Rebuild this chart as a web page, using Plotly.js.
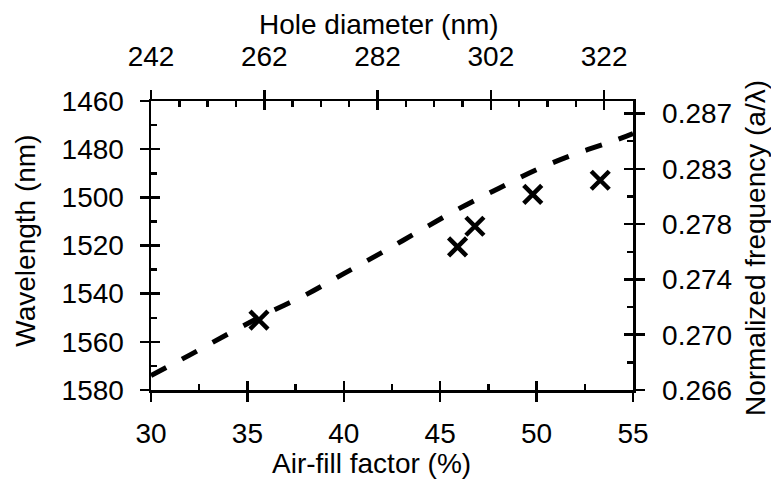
<!DOCTYPE html>
<html>
<head>
<meta charset="utf-8">
<script src="https://cdn.plot.ly/plotly-3.0.1.min.js"></script>
<style>html,body{margin:0;padding:0;background:#fff;}#chart{width:771px;height:483px;}</style>
</head>
<body>
<div id="chart"></div>
<script>
// Dashed simulation curve: air-fill factor (%) vs wavelength (nm)
var curveFill = [30, 32, 34, 36, 38, 40, 42, 44, 46, 48, 50, 52, 54, 55];
var curveWavelength = [1574, 1565.5, 1556.7, 1548.3, 1540.6, 1531.7, 1522.8, 1513.6, 1504.6, 1496.4, 1488.5, 1482.0, 1476.6, 1473.5];
// Measured points
var measFill = [35.6, 45.9, 46.8, 49.8, 53.3];
var measWavelength = [1551, 1520.6, 1512, 1498.8, 1492.9];
// Top axis (hole diameter) ticks
var holeTicks = [242, 262, 282, 302, 322];
// Right axis (normalized frequency) ticks
var freqTickVals = [0.266, 0.2702, 0.2744, 0.2786, 0.2828, 0.287];
var freqTickText = ['0.266', '0.270', '0.274', '0.278', '0.283', '0.287'];

var FONT = 'Liberation Sans, Arial, sans-serif';
var FS = 28;
var LW = 2.5;

var traces = [
  {x: curveFill, y: curveWavelength, mode: 'lines', xaxis: 'x', yaxis: 'y',
   line: {color: '#000', width: 5, dash: '17px,18px', shape: 'spline'}, showlegend: false, hoverinfo: 'skip'},
  {x: measFill, y: measWavelength, mode: 'markers', xaxis: 'x', yaxis: 'y',
   marker: {symbol: 'x-thin-open', size: 18, color: '#000', line: {color: '#000', width: 4.5}}, showlegend: false},
  {x: [], y: [], xaxis: 'x2', yaxis: 'y', showlegend: false},
  {x: [], y: [], xaxis: 'x3', yaxis: 'y', showlegend: false},
  {x: [], y: [], xaxis: 'x4', yaxis: 'y', showlegend: false},
  {x: [], y: [], xaxis: 'x', yaxis: 'y2', showlegend: false},
  {x: [], y: [], xaxis: 'x', yaxis: 'y3', showlegend: false},
  {x: [], y: [], xaxis: 'x', yaxis: 'y4', showlegend: false}
];

var tickFont = {family: FONT, size: FS, color: '#000'};
var topRange = [242, 327.1];
var freqRange = [0.266, 0.28795];

var layout = {
  width: 771, height: 483,
  margin: {l: 151, r: 138, t: 101, b: 93},
  paper_bgcolor: '#fff', plot_bgcolor: '#fff',
  font: {family: FONT, size: FS, color: '#000'},
  showlegend: false,
  xaxis: {range: [30, 55], tick0: 30, dtick: 5, ticks: 'outside', ticklen: 9, tickwidth: LW, tickcolor: '#000',
          showline: true, linewidth: LW, linecolor: '#000', showgrid: false, zeroline: false,
          tickfont: tickFont, anchor: 'y', side: 'bottom', ticklabelstandoff: 8},
  xaxis3: {range: [30, 55], overlaying: 'x', anchor: 'y', side: 'bottom', tick0: 30, dtick: 5,
           ticks: 'inside', ticklen: 9, tickwidth: LW, tickcolor: '#000', showticklabels: false,
           showline: false, showgrid: false, zeroline: false,
           minor: {ticks: 'inside', dtick: 2.5, tick0: 30, ticklen: 6, tickwidth: LW, tickcolor: '#000', showgrid: false}},
  xaxis2: {range: topRange, overlaying: 'x', anchor: 'y', side: 'top', tickmode: 'array', tickvals: holeTicks,
           ticks: 'outside', ticklen: 9, tickwidth: LW, tickcolor: '#000',
           showline: true, linewidth: LW, linecolor: '#000', showgrid: false, zeroline: false,
           tickfont: tickFont, ticklabelstandoff: 12},
  xaxis4: {range: topRange, overlaying: 'x', anchor: 'y', side: 'top', tickmode: 'array', tickvals: holeTicks,
           ticks: 'inside', ticklen: 9, tickwidth: LW, tickcolor: '#000', showticklabels: false,
           showline: false, showgrid: false, zeroline: false,
           minor: {ticks: 'inside', dtick: 5, tick0: 242, ticklen: 6, tickwidth: LW, tickcolor: '#000', showgrid: false}},
  yaxis: {range: [1580, 1460], tick0: 1460, dtick: 20, ticks: 'outside', ticklen: 9, tickwidth: LW, tickcolor: '#000',
          showline: true, linewidth: LW, linecolor: '#000', showgrid: false, zeroline: false,
          tickfont: tickFont, anchor: 'x', side: 'left', ticklabelstandoff: 10},
  yaxis3: {range: [1580, 1460], overlaying: 'y', anchor: 'x', side: 'left', tick0: 1460, dtick: 20,
           ticks: 'inside', ticklen: 9, tickwidth: LW, tickcolor: '#000', showticklabels: false,
           showline: false, showgrid: false, zeroline: false,
           minor: {ticks: 'inside', dtick: 10, tick0: 1460, ticklen: 6, tickwidth: LW, tickcolor: '#000', showgrid: false}},
  yaxis2: {range: freqRange, overlaying: 'y', anchor: 'x', side: 'right', tickmode: 'array',
           tickvals: freqTickVals, ticktext: freqTickText,
           ticks: 'outside', ticklen: 9, tickwidth: LW, tickcolor: '#000',
           showline: true, linewidth: LW, linecolor: '#000', showgrid: false, zeroline: false,
           tickfont: tickFont, ticklabelstandoff: 12},
  yaxis4: {range: freqRange, overlaying: 'y', anchor: 'x', side: 'right', tick0: 0.266, dtick: 0.0042,
           ticks: 'inside', ticklen: 9, tickwidth: LW, tickcolor: '#000', showticklabels: false,
           showline: false, showgrid: false, zeroline: false,
           minor: {ticks: 'inside', dtick: 0.0021, tick0: 0.266, ticklen: 6, tickwidth: LW, tickcolor: '#000', showgrid: false}},
  annotations: [
    {text: 'Air-fill factor (%)', xref: 'paper', yref: 'paper', x: 0.4585, y: -0.2526,
     xanchor: 'center', yanchor: 'middle', showarrow: false, font: {family: FONT, size: FS, color: '#000'}},
    {text: 'Hole diameter (nm)', xref: 'paper', yref: 'paper', x: 0.472, y: 1.2664,
     xanchor: 'center', yanchor: 'middle', showarrow: false, font: {family: FONT, size: FS, color: '#000'}},
    {text: 'Wavelength (nm)', xref: 'paper', yref: 'paper', x: -0.26, y: 0.5156, textangle: -90,
     xanchor: 'center', yanchor: 'middle', showarrow: false, font: {family: FONT, size: FS, color: '#000'}},
    {text: 'Normalized frequency (a/λ)', xref: 'paper', yref: 'paper', x: 1.2531, y: 0.491, textangle: -90,
     xanchor: 'center', yanchor: 'middle', showarrow: false, font: {family: FONT, size: FS, color: '#000'}}
  ]
};

Plotly.newPlot('chart', traces, layout, {displayModeBar: false, staticPlot: true});
</script>
</body>
</html>
